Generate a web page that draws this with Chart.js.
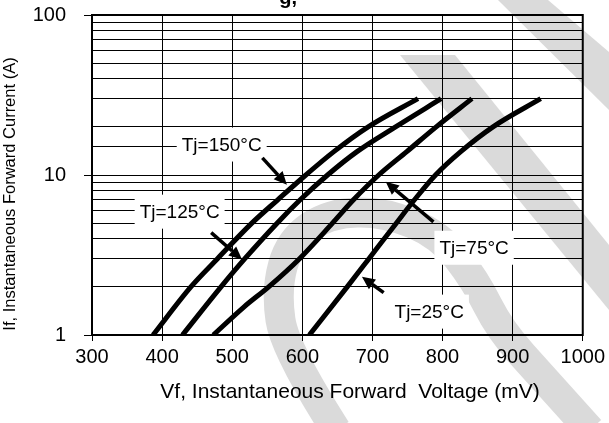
<!DOCTYPE html>
<html>
<head>
<meta charset="utf-8">
<script src="https://cdn.jsdelivr.net/npm/chart.js@4"></script>
<style>
  html, body { margin: 0; padding: 0; background: #fff; }
</style>
</head>
<body>
<canvas id="myChart" width="609" height="423"></canvas>
<script>
// forward curves (mV, A)
const vf150 = [387, 441, 479, 528, 565, 605, 645, 694, 765];
const if150 = [1, 2, 3, 5, 7, 10, 14, 20, 30];
const vf125 = [429, 484, 518, 564, 597, 636, 678, 733, 798];
const if125 = [1, 2, 3, 5, 7, 10, 14, 20, 30];
const vf75  = [473, 517, 552, 596, 643, 673, 709, 749, 791, 842];
const if75  = [1, 1.5, 2, 3, 5, 7, 10, 14, 20, 30];
const vf25  = [610, 664, 695, 734, 760, 790, 826, 872, 940];
const if25  = [1, 2, 3, 5, 7, 10, 14, 20, 30];

const xTicks = [300, 400, 500, 600, 700, 800, 900, 1000];
const yLabels = [1, 10, 100];
const noteText = ['Tj=150\u00B0C', 'Tj=125\u00B0C', 'Tj=75\u00B0C', 'Tj=25\u00B0C'];

const FONT = "'Liberation Sans', Arial, sans-serif";

// label centre + arrow (tail -> head), in data units
const notes = [
  { x: 485, y: 15.5, fx: 543, fy: 12.8, tx: 578, ty: 8.7 },
  { x: 425, y: 5.9,  fx: 470, fy: 4.36, tx: 514, ty: 2.96 },
  { x: 845, y: 3.51, fx: 787, fy: 5.1,  tx: 719, ty: 9.08 },
  { x: 781, y: 1.40, fx: 716, fy: 1.84, tx: 685, ty: 2.31 }
];

const toPoints = (xs, ys) => xs.map((x, i) => ({ x: x, y: ys[i] }));

const curve = (label, xs, ys) => ({
  label: label,
  data: toPoints(xs, ys),
  borderColor: '#000',
  borderWidth: 5,
  pointRadius: 0,
  cubicInterpolationMode: 'monotone',
  clip: 0
});

const smoothPath = (c, pts) => {
  c.beginPath();
  c.moveTo(pts[0][0], pts[0][1]);
  for (let i = 1; i < pts.length - 1; i++) {
    const mx = (pts[i][0] + pts[i + 1][0]) / 2;
    const my = (pts[i][1] + pts[i + 1][1]) / 2;
    c.quadraticCurveTo(pts[i][0], pts[i][1], mx, my);
  }
  const last = pts[pts.length - 1];
  c.lineTo(last[0], last[1]);
};

const deco = {
  id: 'deco',
  beforeDraw(chart) {
    const c = chart.ctx;
    c.save();
    c.fillStyle = '#fff';
    c.fillRect(0, 0, chart.width, chart.height);

    // grey watermark
    c.fillStyle = '#dadada';
    c.strokeStyle = '#dadada';
    c.beginPath();
    c.moveTo(498, 0); c.lineTo(548, 0); c.lineTo(609, 52); c.lineTo(609, 110);
    c.closePath(); c.fill();
    c.beginPath();
    c.moveTo(400, 55); c.lineTo(455, 55); c.lineTo(609, 245); c.lineTo(609, 310);
    c.closePath(); c.fill();
    c.lineWidth = 30;
    smoothPath(c, [[336, 430], [285, 350], [276, 290], [290, 240], [330, 213], [385, 212],
                   [440, 235], [475, 280], [500, 330], [545, 380], [590, 430]]);
    c.stroke();

    // cut-off heading above the plot
    c.fillStyle = '#000';
    c.font = 'bold 20px ' + FONT;
    c.textAlign = 'right';
    c.textBaseline = 'alphabetic';
    c.fillText('g,', 297, 4);
    c.restore();
  },
  afterDatasetsDraw(chart) {
    const c = chart.ctx;
    const xs = chart.scales.x, ys = chart.scales.y;
    const a = chart.chartArea;
    c.save();
    c.strokeStyle = '#000';
    c.lineWidth = 2;
    c.strokeRect(a.left, a.top, a.right - a.left, a.bottom - a.top);

    c.font = '19px ' + FONT;
    c.textAlign = 'center';
    c.textBaseline = 'middle';
    notes.forEach((n, i) => {
      const px = xs.getPixelForValue(n.x), py = ys.getPixelForValue(n.y);
      const w = c.measureText(noteText[i]).width;
      c.fillStyle = '#fff';
      c.fillRect(px - w / 2 - 5, py - 17, w + 10, 34);
      c.fillStyle = '#000';
      c.fillText(noteText[i], px, py + 1);

      const x0 = xs.getPixelForValue(n.fx), y0 = ys.getPixelForValue(n.fy);
      const x1 = xs.getPixelForValue(n.tx), y1 = ys.getPixelForValue(n.ty);
      const ang = Math.atan2(y1 - y0, x1 - x0);
      const hl = 13, hw = 6;
      const bx = x1 - hl * Math.cos(ang), by = y1 - hl * Math.sin(ang);
      c.strokeStyle = '#000';
      c.lineWidth = 3.5;
      c.beginPath(); c.moveTo(x0, y0); c.lineTo(bx, by); c.stroke();
      c.beginPath();
      c.moveTo(x1, y1);
      c.lineTo(bx + hw * Math.sin(ang), by - hw * Math.cos(ang));
      c.lineTo(bx - hw * Math.sin(ang), by + hw * Math.cos(ang));
      c.closePath(); c.fill();
    });

    // axis titles
    c.font = '21px ' + FONT;
    c.textAlign = 'center';
    c.fillText('Vf, Instantaneous Forward  Voltage (mV)', 350, 392);
    c.translate(10, 194);
    c.rotate(-Math.PI / 2);
    c.font = '16.5px ' + FONT;
    c.fillText('If, Instantaneous Forward Current (A)', 0, 0);
    c.restore();
  }
};

const ctx = document.getElementById('myChart');

new Chart(ctx, {
  type: 'line',
  data: {
    datasets: [
      curve('Tj=150', vf150, if150),
      curve('Tj=125', vf125, if125),
      curve('Tj=75', vf75, if75),
      curve('Tj=25', vf25, if25)
    ]
  },
  options: {
    responsive: false,
    animation: false,
    devicePixelRatio: 1,
    layout: { padding: { top: 15, right: 24, left: 0, bottom: 0 } },
    plugins: { legend: { display: false }, tooltip: { enabled: false } },
    scales: {
      x: {
        type: 'linear',
        min: xTicks[0],
        max: xTicks[xTicks.length - 1],
        afterFit: (s) => { s.height = 88; },
        border: { display: false },
        grid: { color: '#000', lineWidth: 1, tickLength: 6 },
        ticks: {
          stepSize: 100,
          padding: 4,
          color: '#000',
          font: { family: FONT, size: 20 },
          maxRotation: 0,
          callback: (v) => String(v)
        }
      },
      y: {
        type: 'logarithmic',
        min: 1,
        max: 100,
        // the wide label gap must not push the plot down
        afterFit: (s) => { s.width = 92; s.paddingTop = 0; s.paddingBottom = 0; },
        border: { display: false },
        grid: {
          color: '#000',
          lineWidth: 1,
          tickLength: 8,
          tickColor: (c) => (yLabels.includes(c.tick && c.tick.value) ? '#000' : 'rgba(0,0,0,0)')
        },
        ticks: {
          autoSkip: false,
          padding: 18,
          color: '#000',
          font: { family: FONT, size: 20 },
          callback: (v) => (yLabels.includes(v) ? String(v) : '')
        }
      }
    }
  },
  plugins: [deco]
});
</script>
</body>
</html>
